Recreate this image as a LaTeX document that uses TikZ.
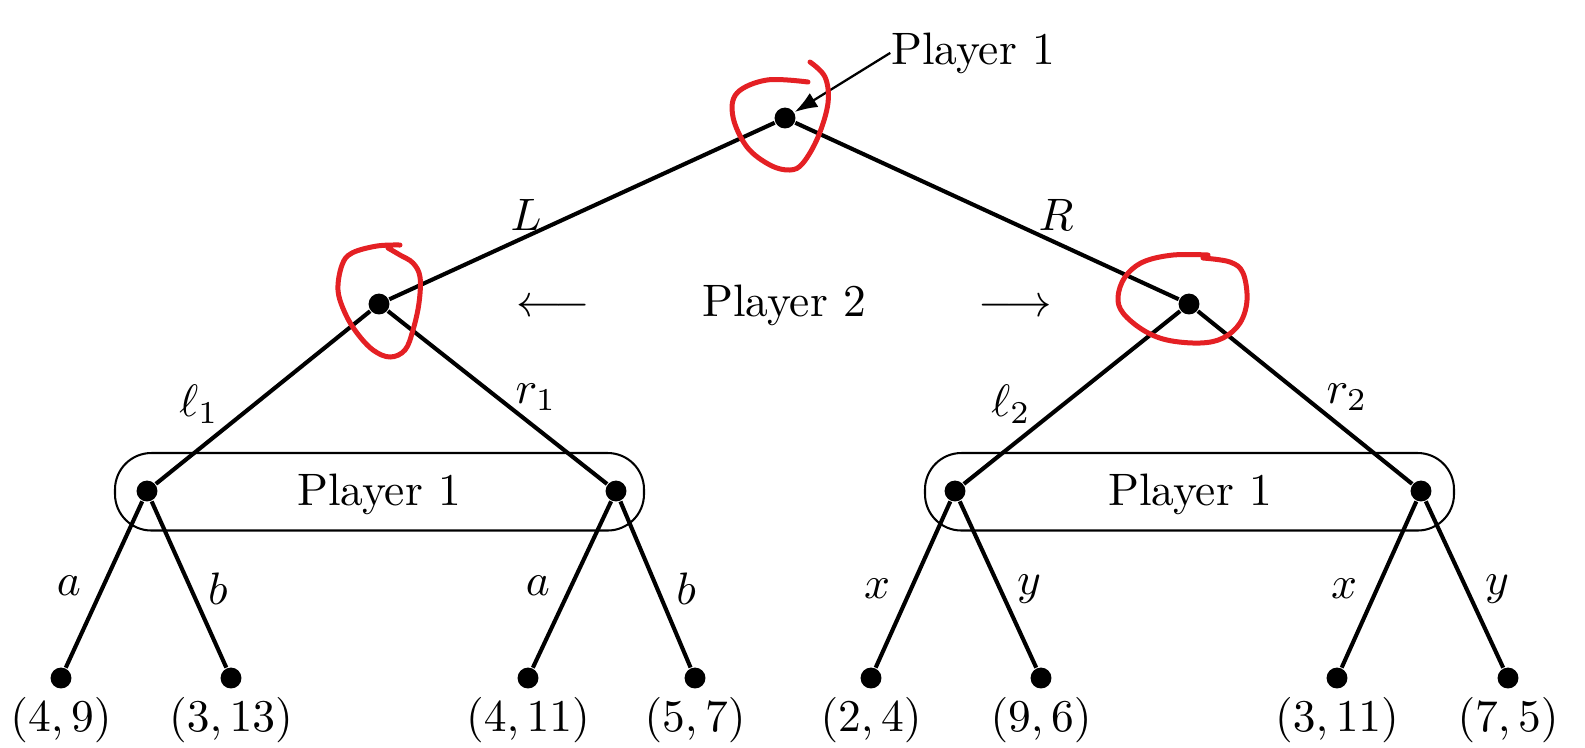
\documentclass[tikz,border=0pt]{standalone}
\usetikzlibrary{arrows.meta,calc}
\definecolor{penred}{RGB}{228,32,36}
\begin{document}
\begin{tikzpicture}[x=0.22pt,y=-0.22pt,
  dot/.style={circle,fill=black,inner sep=0pt,minimum size=4.6pt},
  edge/.style={line width=0.9pt},
  infoset/.style={line width=0.45pt,rounded corners=8pt},
  scribble/.style={penred,line width=1.1pt,line cap=round,line join=round},
  lbl/.style={inner sep=0pt}]
\useasboundingbox (0,0) rectangle (1585,747);

% decision nodes
\node[dot] (root) at (785,118) {};
\node[dot] (p2l) at (379,304) {};
\node[dot] (p2r) at (1189,304) {};
\node[dot] (c1) at (147,491) {};
\node[dot] (c2) at (616,491) {};
\node[dot] (c3) at (955,491) {};
\node[dot] (c4) at (1421,491) {};

% terminal nodes
\node[dot] (t1) at (61,678) {};
\node[dot] (t2) at (231,678) {};
\node[dot] (t3) at (528,678) {};
\node[dot] (t4) at (695,678) {};
\node[dot] (t5) at (871,678) {};
\node[dot] (t6) at (1041,678) {};
\node[dot] (t7) at (1337,678) {};
\node[dot] (t8) at (1508,678) {};

% branches
\draw[edge] (root) -- (p2l);
\draw[edge] (root) -- (p2r);
\draw[edge] (p2l) -- (c1);
\draw[edge] (p2l) -- (c2);
\draw[edge] (p2r) -- (c3);
\draw[edge] (p2r) -- (c4);
\draw[edge] (c1) -- (t1);
\draw[edge] (c1) -- (t2);
\draw[edge] (c2) -- (t3);
\draw[edge] (c2) -- (t4);
\draw[edge] (c3) -- (t5);
\draw[edge] (c3) -- (t6);
\draw[edge] (c4) -- (t7);
\draw[edge] (c4) -- (t8);

% information sets
\draw[infoset] ($(c1)+(-32,-38)$) rectangle ($(c2)+(28,39.5)$);
\draw[infoset] ($(c3)+(-30,-38)$) rectangle ($(c4)+(33,39.5)$);
\node[lbl,anchor=base] (i1) at (379,505) {Player 1};
\node[lbl,anchor=base] (i2) at (1190,505) {Player 1};

% player labels
\node[lbl,anchor=base] (top) at (973,64) {Player 1};
\draw[line width=0.5pt,-{Latex[length=5pt,width=3.6pt]}] (top.west) -- (root);
\node[lbl,anchor=base] (pl2) at (784,316) {Player 2};
\node[lbl,anchor=base] (arl) at (553,316) {$\longleftarrow$};
\node[lbl,anchor=base] (arr) at (1015,316) {$\longrightarrow$};

% action labels
\node[lbl] (eL) at (526,215) {$L$};
\node[lbl] (eR) at (1056,215) {$R$};
\node[lbl] (el1) at (199,404) {$\ell_1$};
\node[lbl] (er1) at (536,397) {$r_1$};
\node[lbl] (el2) at (1011,404) {$\ell_2$};
\node[lbl] (er2) at (1347,397) {$r_2$};
\node[lbl] (ea1) at (69,586) {$a$};
\node[lbl] (eb1) at (218,589) {$b$};
\node[lbl] (ea2) at (538,586) {$a$};
\node[lbl] (eb2) at (686,589) {$b$};
\node[lbl] (ex1) at (877,589) {$x$};
\node[lbl] (ey1) at (1029,589) {$y$};
\node[lbl] (ex2) at (1344,589) {$x$};
\node[lbl] (ey2) at (1497,589) {$y$};

% payoffs
\node[lbl,anchor=base] at (61,731) {$(4,9)$};
\node[lbl,anchor=base] at (231,731) {$(3,13)$};
\node[lbl,anchor=base] at (528,731) {$(4,11)$};
\node[lbl,anchor=base] at (695,731) {$(5,7)$};
\node[lbl,anchor=base] at (871,731) {$(2,4)$};
\node[lbl,anchor=base] at (1041,731) {$(9,6)$};
\node[lbl,anchor=base] at (1337,731) {$(3,11)$};
\node[lbl,anchor=base] at (1508,731) {$(7,5)$};

% hand-drawn circles
\draw[scribble] plot[smooth,tension=0.6] coordinates {
  (808,82) (767,80) (737,93) (733,117) (747,147) (770,165) (790,170)
  (803,163) (818,137) (828,103) (825,77) (810,62)};
\draw[scribble] plot[smooth,tension=0.6] coordinates {
  (400,245) (377,246) (352,253) (342,265) (338,290) (345,313) (357,333)
  (373,350) (390,357) (405,350) (413,330) (419,303) (420,277) (413,263)
  (400,255) (388,248)};
\draw[scribble] plot[smooth,tension=0.6] coordinates {
  (1208,255) (1173,255) (1143,262) (1125,277) (1118,297) (1123,313)
  (1143,330) (1167,340) (1200,343) (1223,338) (1240,323) (1247,300)
  (1243,273) (1230,262) (1203,258)};
\end{tikzpicture}
\end{document}
